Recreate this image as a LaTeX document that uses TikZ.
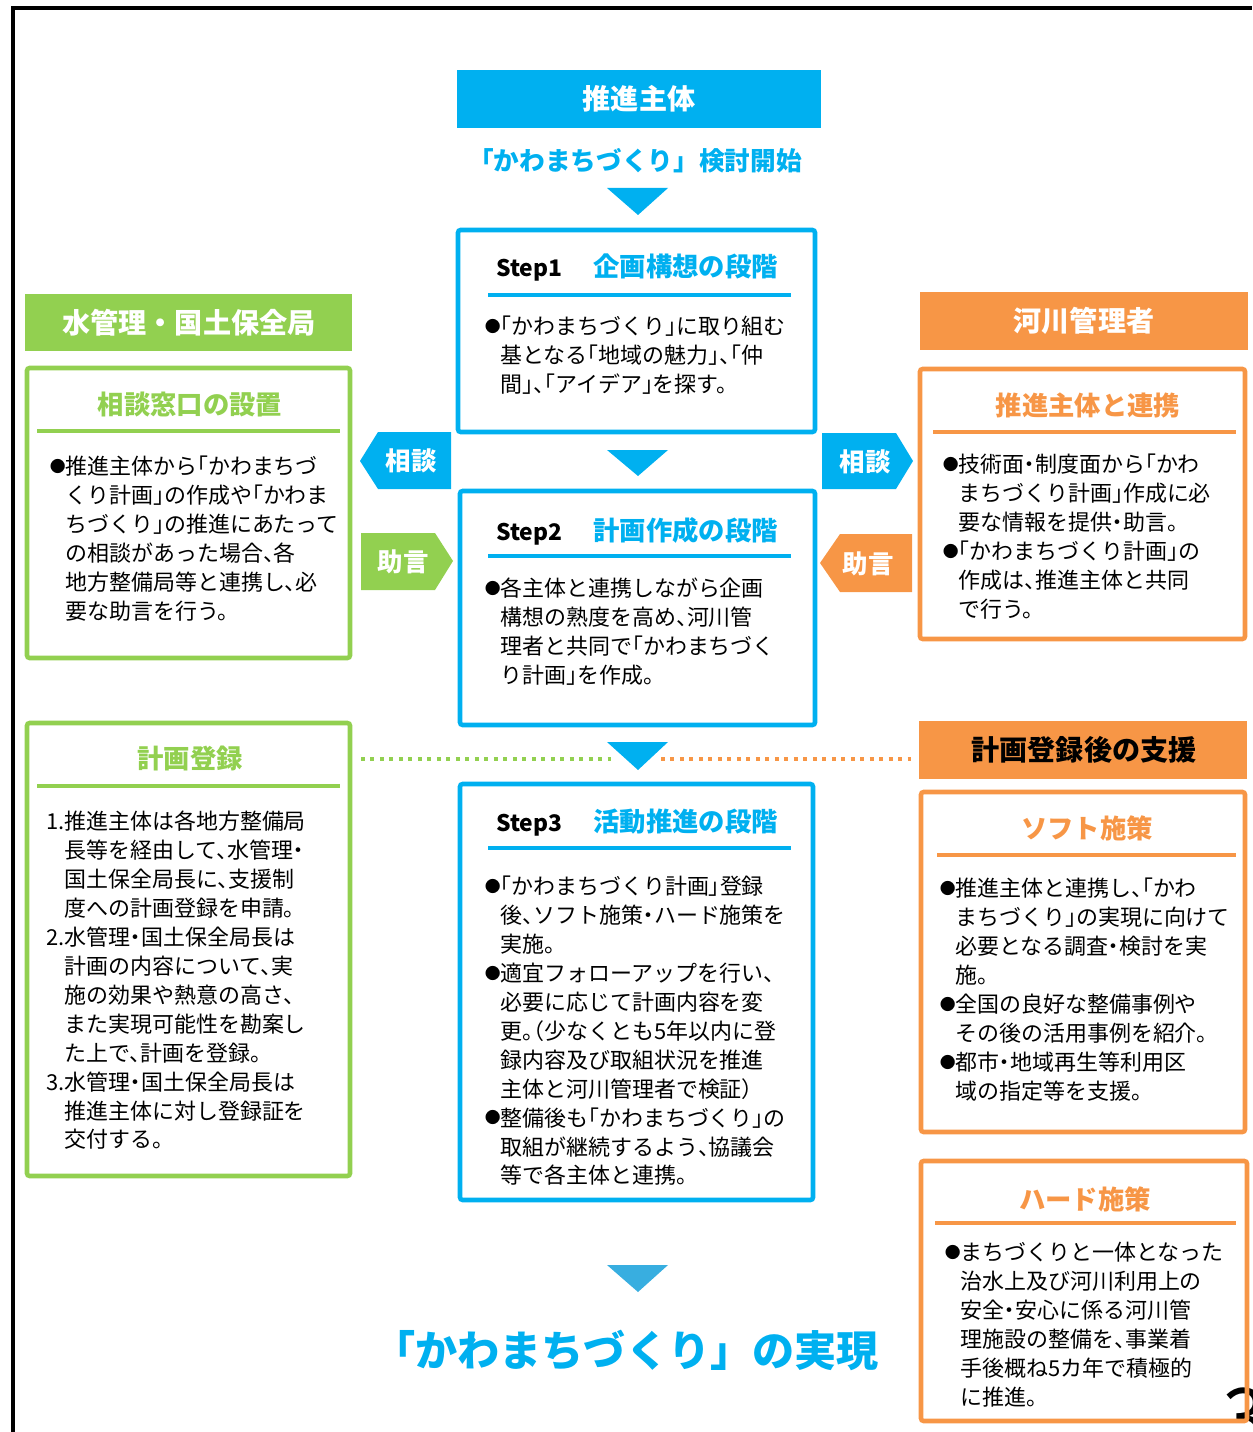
\documentclass[tikz,border=0pt]{standalone}
\usepackage{fontspec}
\setmainfont{Noto Sans CJK JP}
\newfontfamily\bodyjp{Noto Sans CJK JP}[RawFeature=+halt]
\newcommand{\bul}{\hspace*{-0.3cm}\makebox[0.3cm][c]{\raisebox{0.1em}{\scalebox{0.72}{●}}}}
\definecolor{kblue}{HTML}{00B0F0}
\definecolor{kbluelow}{HTML}{38AEE0}
\definecolor{kgreen}{HTML}{92D050}
\definecolor{korange}{HTML}{F79646}
\tikzset{
  boxline/.style={line width=2.6pt, rounded corners=1.5pt},
  headtxt/.style={text=white, font=\bfseries\fontsize{16}{16}\selectfont},
  boxtitle/.style={font=\bfseries\fontsize{15}{15}\selectfont},
  steplbl/.style={anchor=base west, inner sep=0pt, font=\bfseries\fontsize{13}{13}\selectfont},
  bodytxt/.style={anchor=north west, align=left, inner sep=0pt, font=\bodyjp\fontsize{12.5}{16.45}\selectfont},
  tagtxt/.style={text=white, font=\bfseries\fontsize{14.5}{14.5}\selectfont},
  uline/.style={line width=2.3pt},
  dotline/.style={line width=2pt, dash pattern=on 2.2pt off 3.2pt},
}

\begin{document}
\begin{tikzpicture}[x=0.02cm, y=-0.02cm]
\useasboundingbox (0,0) rectangle (1252,1432);
\draw[line width=2.3pt] (13,1432) -- (13,8) -- (1252,8);
\node[anchor=base west, inner sep=0pt, font=\fontsize{46}{46}\selectfont] (pageno) at (1222,1446) {3};

% center column
\fill[kblue] (457,70) rectangle (821,128);
\node[headtxt] (shutai) at (639,99) {推進主体};
\node[text=kblue, font=\bfseries\fontsize{14.6}{14.6}\selectfont] (kaishi) at (635,161) {「かわまちづくり」検討開始};
\fill[kblue] (607,188) -- (668,188) -- (638,215) -- cycle;

\draw[boxline, kblue] (458,230) rectangle (815,432);
\node[steplbl] (s1) at (496,277) {Step1};
\node[boxtitle, anchor=base west, inner sep=0pt, text=kblue] (s1t) at (593,277) {企画構想の段階};
\draw[uline, kblue] (488,295) -- (791,295);
\node[bodytxt] (s1b) at (500,316) {\bul「かわまちづくり」に取り組む\\
基となる「地域の魅力」、「仲\\
間」、「アイデア」を探す。};

\fill[kblue] (607,450) -- (668,450) -- (638,476) -- cycle;

\draw[boxline, kblue] (460,491) rectangle (815,725);
\node[steplbl] (s2) at (496,540) {Step2};
\node[boxtitle, anchor=base west, inner sep=0pt, text=kblue] (s2t) at (593,540) {計画作成の段階};
\draw[uline, kblue] (488,556) -- (791,556);
\node[bodytxt] (s2b) at (500,578) {\bul 各主体と連携しながら企画\\
構想の熟度を高め、河川管\\
理者と共同で「かわまちづく\\
り計画」を作成。};

\fill[kblue] (607,742) -- (668,742) -- (638,770) -- cycle;

\draw[boxline, kblue] (460,784) rectangle (813,1200);
\node[steplbl] (s3) at (496,831) {Step3};
\node[boxtitle, anchor=base west, inner sep=0pt, text=kblue] (s3t) at (593,831) {活動推進の段階};
\draw[uline, kblue] (488,848) -- (791,848);
\node[bodytxt] (s3b) at (500,876) {\bul「かわまちづくり計画」登録\\
後、ソフト施策・ハード施策を\\
実施。\\
\bul 適宜フォローアップを行い、\\
必要に応じて計画内容を変\\
更。（少なくとも5年以内に登\\
録内容及び取組状況を推進\\
主体と河川管理者で検証）\\
\bul 整備後も「かわまちづくり」の\\
取組が継続するよう、協議会\\
等で各主体と連携。};

\fill[kbluelow] (607,1265) -- (668,1265) -- (638,1292) -- cycle;
\node[text=kblue, font=\bfseries\fontsize{24}{24}\selectfont] (jitsugen) at (626,1350) {「かわまちづくり」の実現};

% left column
\fill[kgreen] (25,294) rectangle (352,351);
\node[headtxt] (mizu) at (189,323) {水管理・国土保全局};
\draw[boxline, kgreen] (27,368) rectangle (350,658);
\node[boxtitle, text=kgreen] (madoguchi) at (190,405) {相談窓口の設置};
\draw[uline, kgreen] (37,431) -- (340,431);
\node[bodytxt] (madob) at (65,456) {\bul 推進主体から「かわまちづ\\
くり計画」の作成や「かわま\\
ちづくり」の推進にあたって\\
の相談があった場合、各\\
地方整備局等と連携し、必\\
要な助言を行う。};

\draw[boxline, kgreen] (27,723) rectangle (350,1176);
\node[boxtitle, text=kgreen] (touroku) at (190,758) {計画登録};
\draw[uline, kgreen] (37,786) -- (340,786);
\node[bodytxt] (tourokub) at (64,811) {\llap{1.}推進主体は各地方整備局\\
長等を経由して、水管理・\\
国土保全局長に、支援制\\
度への計画登録を申請。\\
\llap{2.}水管理・国土保全局長は\\
計画の内容について、実\\
施の効果や熱意の高さ、\\
また実現可能性を勘案し\\
た上で、計画を登録。\\
\llap{3.}水管理・国土保全局長は\\
推進主体に対し登録証を\\
交付する。};

% tags between columns
\fill[kblue] (451,432) -- (378,432) -- (360,461) -- (378,489) -- (451,489) -- cycle;
\node[tagtxt] (soudanL) at (411,461) {相談};
\fill[kgreen] (361,533) -- (435,533) -- (453,561) -- (435,590) -- (361,590) -- cycle;
\node[tagtxt] (jogenL) at (403,562) {助言};
\fill[kblue] (822,433) -- (896,433) -- (913,461) -- (896,489) -- (822,489) -- cycle;
\node[tagtxt] (soudanR) at (865,462) {相談};
\fill[korange] (912,534) -- (840,534) -- (820,563) -- (840,592) -- (912,592) -- cycle;
\node[tagtxt] (jogenR) at (868,564) {助言};

% right column
\fill[korange] (920,292) rectangle (1248,350);
\node[headtxt] (kasen) at (1084,321) {河川管理者};
\draw[boxline, korange] (920,369) rectangle (1245,639);
\node[boxtitle, text=korange] (renkei) at (1088,405) {推進主体と連携};
\draw[uline, korange] (933,432) -- (1236,432);
\node[bodytxt] (renkeib) at (958,454) {\bul 技術面・制度面から「かわ\\
まちづくり計画」作成に必\\
要な情報を提供・助言。\\
\bul「かわまちづくり計画」の\\
作成は、推進主体と共同\\
で行う。};

\fill[korange] (919,721) rectangle (1247,779);
\node[font=\bfseries\fontsize{16}{16}\selectfont] (shien) at (1084,750) {計画登録後の支援};

\draw[boxline, korange] (921,792) rectangle (1245,1132);
\node[boxtitle, text=korange] (soft) at (1087,828) {ソフト施策};
\draw[uline, korange] (937,855) -- (1236,855);
\node[bodytxt] (softb) at (955,878) {\bul 推進主体と連携し、「かわ\\
まちづくり」の実現に向けて\\
必要となる調査・検討を実\\
施。\\
\bul 全国の良好な整備事例や\\
その後の活用事例を紹介。\\
\bul 都市・地域再生等利用区\\
域の指定等を支援。};

\draw[boxline, korange] (921,1161) rectangle (1247,1421);
\node[boxtitle, text=korange] (hard) at (1085,1199) {ハード施策};
\draw[uline, korange] (935,1223) -- (1236,1223);
\node[bodytxt] (hardb) at (960,1242) {\bul まちづくりと一体となった\\
治水上及び河川利用上の\\
安全・安心に係る河川管\\
理施設の整備を、事業着\\
手後概ね5カ年で積極的\\
に推進。};

% dotted guide to the triangle
\coordinate (dotL) at (361,759);
\coordinate (dotR) at (911,759);
\coordinate (triL) at (611,759);
\coordinate (triR) at (661,759);
\draw[dotline, kgreen] (dotL) -- (triL);
\draw[dotline, korange] (triR) -- (dotR);
\end{tikzpicture}
\end{document}
